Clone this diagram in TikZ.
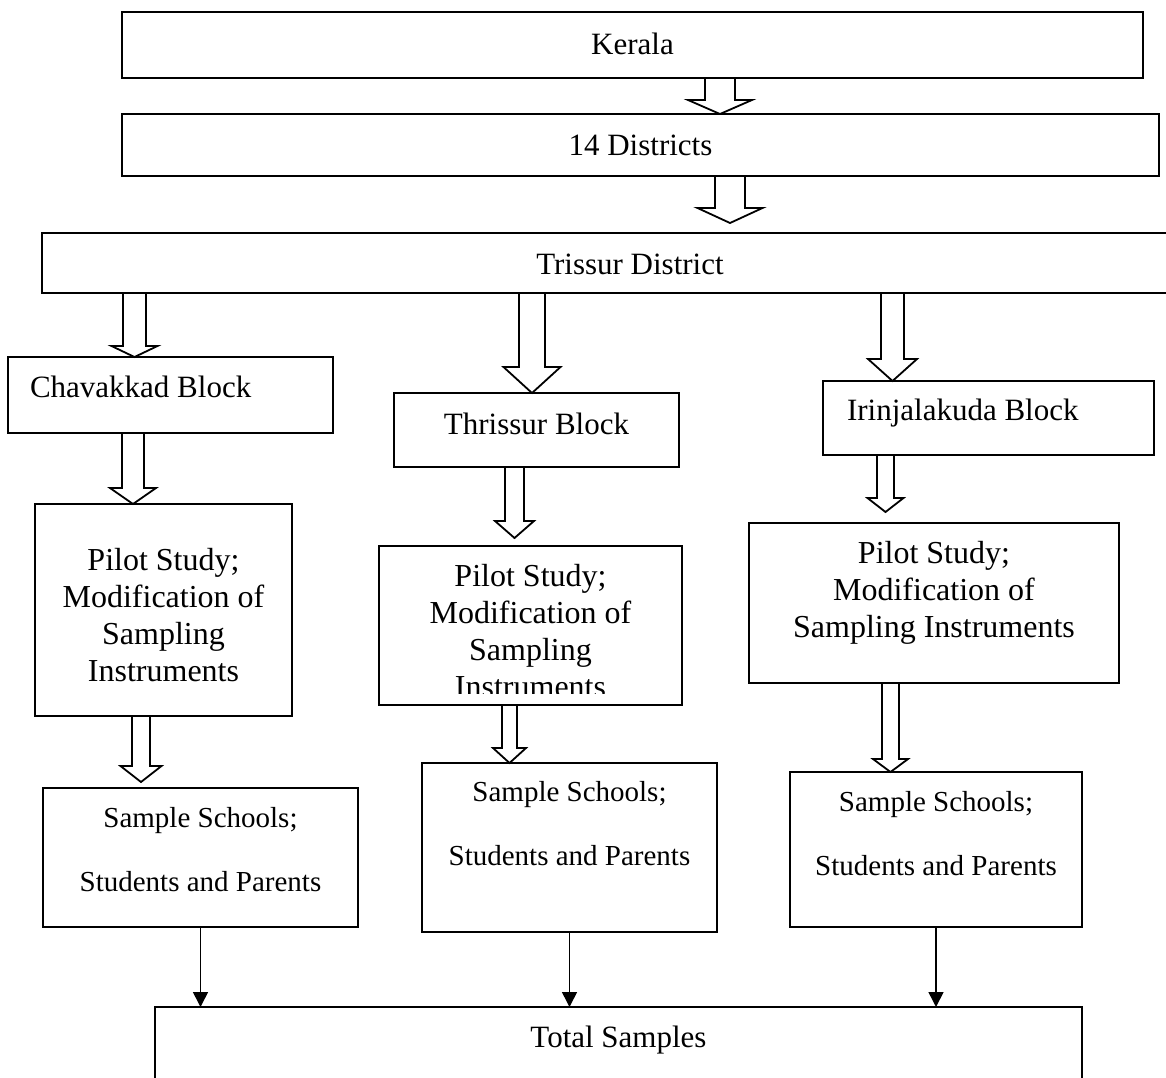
\documentclass[tikz,border=0pt]{standalone}
\usepackage{fontspec}
\setmainfont{Liberation Serif}
\usetikzlibrary{arrows.meta,calc}
\tikzset{
  box/.style={draw,line width=1pt,inner sep=0pt,outer sep=0pt,anchor=north west,
              align=flush center,font=\fontsize{15.5}{18.5}\selectfont},
  pilot/.style={box,font=\fontsize{16}{18.5}\selectfont},
  sample/.style={box,font=\fontsize{14.5}{32.25}\selectfont},
  hollow/.style={line width=0.9pt},
  feed/.style={-{Triangle[length=7.5pt,width=7.5pt]},line width=0.75pt},
}
% hollow block arrow: axis x, from, to, half shaft, half head, head length, gap
\newcommand{\fatdown}[7]{%
  \draw[hollow] let \p1=(#2.south), \p2=(#3.north) in
    ({(#1-#4)*0.5pt},\y1) -- ({(#1-#4)*0.5pt},{\y2+(#6+#7)*0.5pt})
    -- ({(#1-#5)*0.5pt},{\y2+(#6+#7)*0.5pt}) -- ({#1*0.5pt},{\y2+#7*0.5pt})
    -- ({(#1+#5)*0.5pt},{\y2+(#6+#7)*0.5pt}) -- ({(#1+#4)*0.5pt},{\y2+(#6+#7)*0.5pt})
    -- ({(#1+#4)*0.5pt},\y1);
}

\begin{document}
\begin{tikzpicture}[x=0.5pt,y=-0.5pt]
  \clip (0,0) rectangle (1166,1077);
  % state, districts, district
  \node[box,text width=510.5pt,text height=21pt,text depth=12pt] (kerala) at (122,12) {Kerala};
  \node[box,text width=518.5pt,text height=20.5pt,text depth=10.5pt] (dist) at (122,114) {14 Districts};
  \node[box,text width=588pt,text height=20.5pt,text depth=9.5pt] (trissur) at (42,233) {Trissur District};
  % blocks
  \node[box,align=flush left,inner xsep=11pt,text width=140.5pt,text height=20pt,text depth=18pt]
    (chav) at (8,357) {Chavakkad Block};
  \node[box,text width=142.5pt,text height=20.5pt,text depth=16.5pt] (thb) at (394,393) {Thrissur Block};
  \node[box,align=flush left,inner xsep=12pt,text width=141.5pt,text height=19.5pt,text depth=17.5pt]
    (irb) at (823,381) {Irinjalakuda Block};
  % pilot study
  \node[pilot,text width=128.5pt,text height=33pt,text depth=73pt] (pil1) at (35,504)
    {Pilot Study;\\Modification of\\Sampling\\Instruments};
  \node[pilot,text width=151.5pt,text height=20pt,text depth=59.5pt] (pil2) at (379,546)
    {Pilot Study;\\Modification of\\Sampling\\Instruments};
  \fill[white] ([xshift=1pt,yshift=0.5pt]pil2.south west) rectangle ([xshift=-1pt,yshift=5.5pt]pil2.south east);
  \node[pilot,text width=185pt,text height=20pt,text depth=60pt] (pil3) at (749,523)
    {Pilot Study;\\Modification of\\Sampling Instruments};
  % samples
  \node[sample,text width=157.5pt,text height=19.5pt,text depth=50pt] (smp1) at (43,788)
    {Sample Schools;\\Students and Parents};
  \node[sample,text width=147.5pt,text height=19pt,text depth=65.5pt] (smp2) at (422,763)
    {Sample Schools;\\Students and Parents};
  \node[sample,text width=146pt,text height=19.5pt,text depth=58pt] (smp3) at (790,772)
    {Sample Schools;\\Students and Parents};
  \node[box,text width=463.5pt,text height=20pt,text depth=31.5pt] (total) at (155,1007) {Total Samples};
  % block arrows
  \fatdown{720}{kerala}{dist}{15}{32}{14}{0}
  \fatdown{730}{dist}{trissur}{15}{32.5}{15}{10}
  \fatdown{134.5}{trissur}{chav}{11.5}{23}{11}{0}
  \fatdown{532}{trissur}{thb}{13}{28.5}{26}{0}
  \fatdown{892.5}{trissur}{irb}{11.5}{24.5}{22}{0}
  \fatdown{133}{chav}{pil1}{11}{23}{16}{0}
  \fatdown{514.5}{thb}{pil2}{9.5}{19.5}{17}{8}
  \fatdown{885.5}{irb}{pil3}{8.5}{18}{14}{11}
  \fatdown{141}{pil1}{smp1}{9}{20.5}{16}{6}
  \fatdown{509.5}{pil2}{smp2}{7.5}{16.5}{15}{0}
  \fatdown{890.5}{pil3}{smp3}{8.5}{17.5}{13}{0}
  % to total
  \draw[feed] (smp1.south) -- (smp1.south |- total.north);
  \draw[feed] (smp2.south) -- (smp2.south |- total.north);
  \draw[feed] (smp3.south) -- (smp3.south |- total.north);
\end{tikzpicture}
\end{document}
